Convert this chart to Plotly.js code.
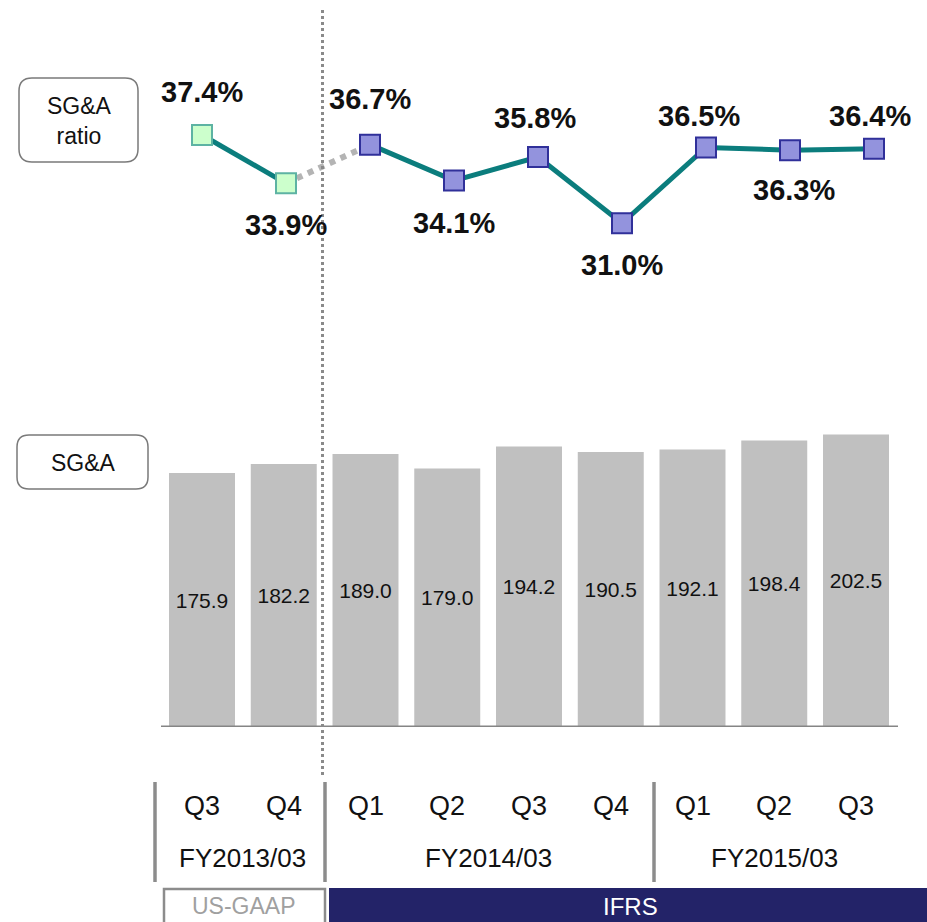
<!DOCTYPE html>
<html>
<head>
<meta charset="utf-8">
<script src="https://cdn.plot.ly/plotly-3.0.1.min.js"></script>
<style>
html,body{margin:0;padding:0;background:#fff;}
#chart{width:927px;height:922px;}
</style>
</head>
<body>
<div id="chart"></div>
<script>
// ---- data ----
const categories = ['FY2013/03 Q3','FY2013/03 Q4','FY2014/03 Q1','FY2014/03 Q2','FY2014/03 Q3','FY2014/03 Q4','FY2015/03 Q1','FY2015/03 Q2','FY2015/03 Q3'];
const quarterLabels = ['Q3','Q4','Q1','Q2','Q3','Q4','Q1','Q2','Q3'];
const sgaValues = [175.9, 182.2, 189.0, 179.0, 194.2, 190.5, 192.1, 198.4, 202.5];
const sgaRatio = [37.4, 33.9, 36.7, 34.1, 35.8, 31.0, 36.5, 36.3, 36.4];
const fyLabels = ['FY2013/03','FY2014/03','FY2015/03'];
const fyQuarterCounts = [2, 4, 3];
const gaapCount = 2; // first quarters reported under US-GAAP, rest IFRS

// ---- style: label offsets (pixels) for the ratio labels ----
const labelYShift = [43, -42, 46, -42, 39, -42, 31, -40, 33];
const labelXShift = [0, 0, 0, 0, -3, 0, -7, 4, -4];

// ---- layout helpers ----
const W = 927, H = 922;
const px = x => x / W;
const py = y => 1 - y / H;
const FONT = 'Liberation Sans, Arial, sans-serif';

function roundRect(x0, y0, x1, y1, r) {
  const rx = r / W, ry = r / H;
  const a = px(x0), b = px(x1), t = py(y0), u = py(y1);
  return `M ${a+rx},${t} L ${b-rx},${t} Q ${b},${t} ${b},${t-ry} L ${b},${u+ry} Q ${b},${u} ${b-rx},${u} L ${a+rx},${u} Q ${a},${u} ${a},${u+ry} L ${a},${t-ry} Q ${a},${t} ${a+rx},${t} Z`;
}

// ---- traces ----
const barTrace = {
  type: 'bar', x: categories, y: sgaValues, xaxis: 'x', yaxis: 'y',
  marker: {color: '#c0c0c0', line: {width: 0}},
  text: sgaValues.map(v => v.toFixed(1)),
  textposition: 'inside', insidetextanchor: 'middle', textangle: 0,
  constraintext: 'none',
  insidetextfont: {family: FONT, size: 21, color: '#111'},
  hoverinfo: 'skip', showlegend: false
};

const connector = {
  type: 'scatter', mode: 'lines', xaxis: 'x2', yaxis: 'y2',
  x: categories.slice(gaapCount - 1, gaapCount + 1),
  y: sgaRatio.slice(gaapCount - 1, gaapCount + 1),
  line: {color: '#b4b4b4', width: 6, dash: 'dot'},
  hoverinfo: 'skip', showlegend: false
};

const gaapLine = {
  type: 'scatter', mode: 'lines+markers', xaxis: 'x2', yaxis: 'y2',
  x: categories.slice(0, gaapCount), y: sgaRatio.slice(0, gaapCount),
  line: {color: '#0b7d7d', width: 5},
  marker: {symbol: 'square', size: 20, color: '#ccffcc', line: {color: '#5db3a3', width: 2}},
  hoverinfo: 'skip', showlegend: false
};

const ifrsLine = {
  type: 'scatter', mode: 'lines+markers', xaxis: 'x2', yaxis: 'y2',
  x: categories.slice(gaapCount), y: sgaRatio.slice(gaapCount),
  line: {color: '#0b7d7d', width: 5},
  marker: {symbol: 'square', size: 20, color: '#9393dd', line: {color: '#30309a', width: 2}},
  hoverinfo: 'skip', showlegend: false
};

// ---- annotations ----
const annotations = [];
sgaRatio.forEach((v, i) => {
  annotations.push({
    xref: 'x2', yref: 'y2', x: i, y: v, showarrow: false, xanchor: 'center', yanchor: 'middle',
    text: v.toFixed(1) + '%', yshift: labelYShift[i], xshift: labelXShift[i],
    font: {family: FONT, size: 29, color: '#111', weight: 'bold'}
  });
});
quarterLabels.forEach((q, i) => {
  annotations.push({xref: 'x', yref: 'paper', x: i, y: py(806), xanchor: 'center', yanchor: 'middle',
    showarrow: false, text: q, font: {family: FONT, size: 27, color: '#111'}});
});
let start = 0;
fyLabels.forEach((fy, g) => {
  const n = fyQuarterCounts[g];
  annotations.push({xref: 'x', yref: 'paper', x: start + (n - 1) / 2, y: py(858), xanchor: 'center', yanchor: 'middle',
    showarrow: false, text: fy, font: {family: FONT, size: 26, color: '#111'}});
  start += n;
});
annotations.push({xref: 'paper', yref: 'paper', x: px(244), y: py(906), xanchor: 'center', yanchor: 'middle', showarrow: false,
  text: 'US-GAAP', font: {family: FONT, size: 23, color: '#a0a0a0'}});
annotations.push({xref: 'paper', yref: 'paper', x: px(630), y: py(906), xanchor: 'center', yanchor: 'middle', showarrow: false,
  text: 'IFRS', font: {family: FONT, size: 24, color: '#ffffff'}});
annotations.push({xref: 'paper', yref: 'paper', x: px(79), y: py(121), xanchor: 'center', yanchor: 'middle', showarrow: false,
  text: 'SG&A<br>ratio', align: 'center', font: {family: FONT, size: 23, color: '#111'}});
annotations.push({xref: 'paper', yref: 'paper', x: px(83), y: py(463), xanchor: 'center', yanchor: 'middle', showarrow: false,
  text: 'SG&A', font: {family: FONT, size: 23, color: '#111'}});

// ---- shapes ----
const shapes = [
  {type: 'path', xref: 'paper', yref: 'paper', path: roundRect(19, 78, 138, 162, 13), line: {color: '#7a7a7a', width: 1.5}, fillcolor: '#fff', layer: 'below'},
  {type: 'path', xref: 'paper', yref: 'paper', path: roundRect(17, 435, 148, 489, 12), line: {color: '#7a7a7a', width: 1.5}, fillcolor: '#fff', layer: 'below'},
  {type: 'line', xref: 'paper', yref: 'y', x0: px(161), x1: px(898), y0: 0, y1: 0, line: {color: '#858585', width: 3}, layer: 'above'},
  {type: 'line', xref: 'paper', yref: 'paper', x0: px(322.5), x1: px(322.5), y0: py(10), y1: py(775), line: {color: '#8a8a8a', width: 3, dash: 'dot'}, layer: 'above'},
  {type: 'line', xref: 'paper', yref: 'paper', x0: px(155), x1: px(155), y0: py(782), y1: py(882), line: {color: '#8c8c8c', width: 3.5}},
  {type: 'line', xref: 'paper', yref: 'paper', x0: px(325), x1: px(325), y0: py(782), y1: py(882), line: {color: '#8c8c8c', width: 3.5}},
  {type: 'line', xref: 'paper', yref: 'paper', x0: px(654), x1: px(654), y0: py(782), y1: py(882), line: {color: '#8c8c8c', width: 3.5}},
  {type: 'rect', xref: 'paper', yref: 'paper', x0: px(164), x1: px(325), y0: py(889), y1: py(924), line: {color: '#8c8c8c', width: 2.5}, fillcolor: '#fff', layer: 'below'},
  {type: 'rect', xref: 'paper', yref: 'paper', x0: px(329), x1: px(930), y0: py(888), y1: py(925), line: {width: 0}, fillcolor: '#232368', layer: 'below'}
];

const layout = {
  width: W, height: H,
  margin: {l: 0, r: 0, t: 0, b: 0, pad: 0},
  paper_bgcolor: '#fff', plot_bgcolor: 'rgba(0,0,0,0)',
  showlegend: false,
  bargap: 0.193,
  xaxis: {type: 'category', categoryorder: 'array', categoryarray: categories, domain: [0, 1], anchor: 'y',
          range: [-202 / 81.75, (W - 202) / 81.75], visible: false, fixedrange: true},
  yaxis: {domain: [(H - 727) / H, 0.55], anchor: 'x', range: [0, 312.1 / 1.444], visible: false, fixedrange: true},
  xaxis2: {type: 'category', categoryorder: 'array', categoryarray: categories, domain: [0, 1], anchor: 'y2',
           range: [-202 / 84, (W - 202) / 84], visible: false, fixedrange: true},
  yaxis2: {domain: [0.65, 1], anchor: 'x2', range: [23.8, 47.18], visible: false, fixedrange: true},
  annotations: annotations,
  shapes: shapes
};

Plotly.newPlot('chart', [barTrace, connector, gaapLine, ifrsLine], layout, {staticPlot: true, displayModeBar: false});
</script>
</body>
</html>
